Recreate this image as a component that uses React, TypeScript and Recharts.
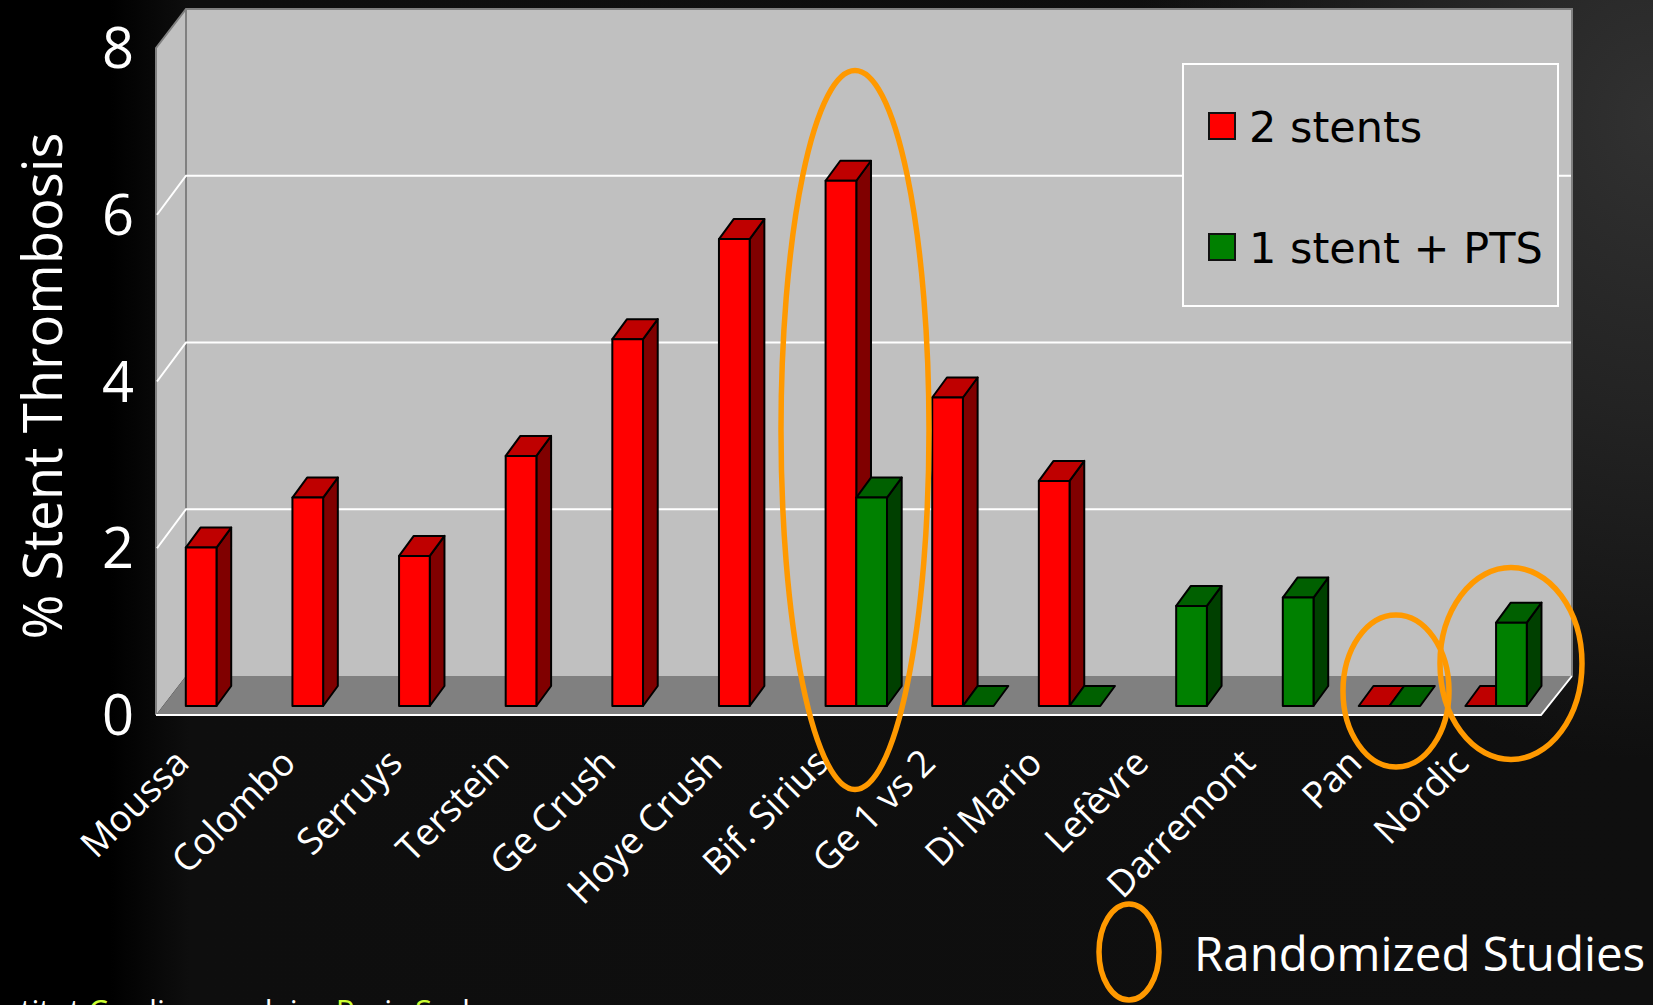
import React from "react";
import { Bar, BarChart, CartesianGrid, Legend, XAxis, YAxis } from "recharts";

const studies = [
  "Moussa",
  "Colombo",
  "Serruys",
  "Terstein",
  "Ge Crush",
  "Hoye Crush",
  "Bif. Sirius",
  "Ge 1 vs 2",
  "Di Mario",
  "Lefèvre",
  "Darremont",
  "Pan",
  "Nordic",
];
const twoStents = [1.9, 2.5, 1.8, 3.0, 4.4, 5.6, 6.3, 3.7, 2.7, null, null, 0, 0];
const oneStentPts = [null, null, null, null, null, null, 2.5, 0, 0, 1.2, 1.3, 0, 1.0];
const yTicks = [0, 2, 4, 6, 8];

const data = studies.map((study, i) => ({
  study,
  twoStents: twoStents[i],
  oneStentPts: oneStentPts[i],
}));

const WIDTH = 1653;
const HEIGHT = 1005;
const HAND_FONT = '"Comic Sans MS", "Open Sans", sans-serif';
const LEGEND_FONT = '"DejaVu Sans", sans-serif';

// box geometry of the fake 3D plot
const FRONT_LEFT = 156;
const BACK_LEFT = 186;
const BACK_RIGHT = 1572;
const FRONT_RIGHT = 1541;
const BACK_TOP = 9;
const BACK_FLOOR = 676;
const FRONT_FLOOR = 715;
const FRONT_TOP = 48;
const BAR_FLOOR = 706;
const BAR_DX = 14.7;
const BAR_DY = 20;

const RED = { front: "#ff0000", top: "#bf0000", side: "#800000" };
const GREEN = { front: "#008000", top: "#006000", side: "#004000" };

const renderBar3d = (colors: typeof RED) => (props: any) => {
  const { x, y, width, height, value } = props;
  if (value == null) return <g />;
  const v = Array.isArray(value) ? value[1] : value;
  if (v == null) return <g />;
  const right = x + width;
  const bottom = y + height;
  const line = { stroke: "#000", strokeWidth: 2, strokeLinejoin: "round" as const };
  return (
    <g>
      {height > 0 && (
        <polygon
          points={`${right},${y} ${right + BAR_DX},${y - BAR_DY} ${right + BAR_DX},${bottom - BAR_DY} ${right},${bottom}`}
          fill={colors.side}
          {...line}
        />
      )}
      <polygon
        points={`${x},${y} ${x + BAR_DX},${y - BAR_DY} ${right + BAR_DX},${y - BAR_DY} ${right},${y}`}
        fill={colors.top}
        {...line}
      />
      {height > 0 && <rect x={x} y={y} width={width} height={height} fill={colors.front} {...line} />}
    </g>
  );
};

const StudyTick = ({ x, payload }: any) => (
  <text
    transform={`translate(${x - 25},${BAR_FLOOR + 59}) rotate(-45)`}
    textAnchor="end"
    fill="#fff"
    fontFamily={HAND_FONT}
    fontSize={37}
  >
    {payload.value}
  </text>
);

const PercentTick = ({ y, payload }: any) => (
  <text
    x={118}
    y={y + FRONT_FLOOR - BAR_FLOOR}
    dy="0.36em"
    textAnchor="middle"
    fill="#fff"
    fontFamily={HAND_FONT}
    fontSize={56}
  >
    {payload.value}
  </text>
);

// grid runs along the side wall and then across the back wall
const WallLine = (props: any) => {
  const { y1 } = props;
  const front = y1 + FRONT_FLOOR - BAR_FLOOR;
  const back = y1 + BACK_FLOOR - BAR_FLOOR;
  return (
    <g key={props.key}>
      <polyline
        points={`${FRONT_LEFT + 1},${front} ${BACK_LEFT},${back} ${BACK_RIGHT - 1},${back}`}
        fill="none"
        stroke="#fff"
        strokeWidth={2}
      />
    </g>
  );
};

const LegendBox = ({ payload }: any) => (
  <div
    style={{
      width: 377,
      height: 244,
      boxSizing: "border-box",
      border: "2px solid #fff",
      background: "#c0c0c0",
      position: "relative",
    }}
  >
    {(payload || []).map((entry: any, i: number) => (
      <div key={entry.value}>
        <div
          style={{
            position: "absolute",
            left: 24,
            top: 47 + i * 121,
            width: 28,
            height: 28,
            boxSizing: "border-box",
            border: "2px solid #111",
            background: entry.color,
          }}
        />
        <div
          style={{
            position: "absolute",
            left: 65,
            top: 36 + i * 121,
            fontFamily: LEGEND_FONT,
            fontSize: 43,
            lineHeight: "52px",
            color: "#000",
            whiteSpace: "nowrap",
          }}
        >
          {entry.value}
        </div>
      </div>
    ))}
  </div>
);

const layer = (z: number): React.CSSProperties => ({
  position: "absolute",
  left: 0,
  top: 0,
  width: WIDTH,
  height: HEIGHT,
  zIndex: z,
});

export default function App() {
  return (
    <div
      style={{
        ...layer(0),
        overflow: "hidden",
        background:
          "radial-gradient(ellipse 520px 640px at 1653px 120px, #313131 0%, #232323 45%, rgba(20,20,20,0) 100%), linear-gradient(90deg, #000 0, #000 110px, #0e0e0e 190px, #0f0f0f 100%)",
      }}
    >
      <svg style={layer(1)} width={WIDTH} height={HEIGHT}>
        <rect x={BACK_LEFT} y={BACK_TOP} width={BACK_RIGHT - BACK_LEFT} height={BACK_FLOOR - BACK_TOP} fill="#c0c0c0" />
        <polygon
          points={`${FRONT_LEFT},${FRONT_TOP} ${BACK_LEFT},${BACK_TOP} ${BACK_LEFT},${BACK_FLOOR} ${FRONT_LEFT},${FRONT_FLOOR}`}
          fill="#c0c0c0"
        />
        <polygon
          points={`${FRONT_LEFT},${FRONT_FLOOR} ${BACK_LEFT},${BACK_FLOOR} ${BACK_RIGHT},${BACK_FLOOR} ${FRONT_RIGHT},${FRONT_FLOOR}`}
          fill="#808080"
        />
        <polyline
          points={`${FRONT_LEFT},${FRONT_FLOOR} ${FRONT_LEFT},${FRONT_TOP} ${BACK_LEFT},${BACK_TOP} ${BACK_RIGHT},${BACK_TOP} ${BACK_RIGHT},${BACK_FLOOR}`}
          fill="none"
          stroke="#808080"
          strokeWidth={2}
        />
        <line x1={BACK_LEFT} y1={BACK_TOP} x2={BACK_LEFT} y2={BACK_FLOOR} stroke="#808080" strokeWidth={2} />
        <polyline
          points={`${FRONT_LEFT},${FRONT_FLOOR} ${FRONT_RIGHT},${FRONT_FLOOR} ${BACK_RIGHT},${BACK_FLOOR}`}
          fill="none"
          stroke="#fff"
          strokeWidth={2}
        />
      </svg>

      <div style={layer(2)}>
        <BarChart
          width={WIDTH}
          height={HEIGHT}
          data={data}
          margin={{ top: 39, right: 104, bottom: 298, left: 161.8 }}
          barSize={30.7}
          barGap={0}
        >
          <CartesianGrid vertical={false} horizontal={WallLine} horizontalValues={[2, 4, 6]} />
          <XAxis
            dataKey="study"
            interval={0}
            height={1}
            axisLine={false}
            tickLine={false}
            tickSize={0}
            tickMargin={0}
            tick={StudyTick}
          />
          <YAxis
            width={1}
            domain={[0, 8]}
            ticks={yTicks}
            axisLine={false}
            tickLine={false}
            tick={PercentTick}
            label={{
              value: "% Stent Thrombosis",
              content: () => (
                <text
                  transform="translate(62,386) rotate(-90)"
                  textAnchor="middle"
                  fill="#fff"
                  fontFamily={HAND_FONT}
                  fontSize={54.5}
                >
                  % Stent Thrombosis
                </text>
              ),
            }}
          />
          <Legend
            layout="vertical"
            align="center"
            verticalAlign="middle"
            itemSorter={null}
            wrapperStyle={{ left: 1182, top: 63, width: 377, height: 244 }}
            content={LegendBox}
          />
          <Bar dataKey="twoStents" name="2 stents" fill={RED.front} shape={renderBar3d(RED)} isAnimationActive={false} />
          <Bar dataKey="oneStentPts" name="1 stent + PTS" fill={GREEN.front} shape={renderBar3d(GREEN)} isAnimationActive={false} />
        </BarChart>
      </div>

      <svg style={{ ...layer(3), pointerEvents: "none" }} width={WIDTH} height={HEIGHT}>
        <g fill="none" stroke="#ff9900" strokeWidth={5.5}>
          <ellipse cx={855} cy={430} rx={74} ry={359.5} />
          <ellipse cx={1396} cy={691} rx={53} ry={76} />
          <ellipse cx={1511} cy={663.5} rx={71} ry={96} />
          <ellipse cx={1129} cy={952} rx={30} ry={48} />
        </g>
        <text x={1194} y={971} fill="#fff" fontFamily={HAND_FONT} fontSize={47.5}>
          Randomized Studies
        </text>
        <text x={-22} y={1022} fill="#fff" fontFamily={HAND_FONT} fontSize={31}>
          Institut <tspan fill="#ccff33">C</tspan>ardiovasculaire <tspan fill="#ccff33">P</tspan>aris <tspan fill="#ccff33">S</tspan>ud
        </text>
      </svg>
    </div>
  );
}
